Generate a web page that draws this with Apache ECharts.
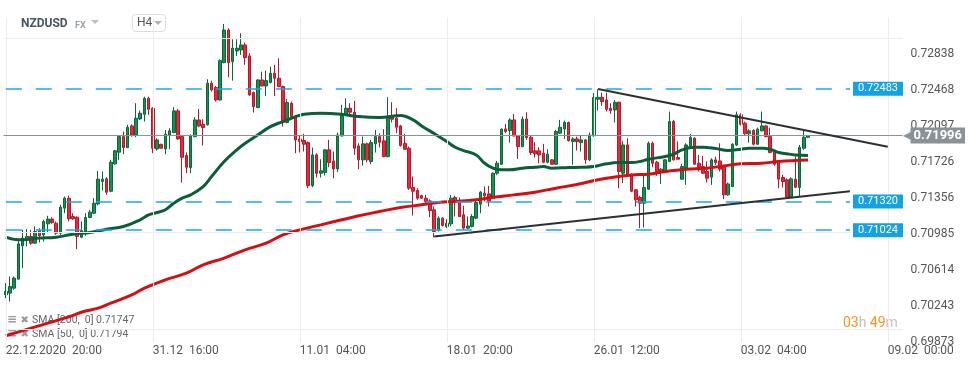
<!DOCTYPE html>
<html><head><meta charset="utf-8">
<script src="https://cdn.jsdelivr.net/npm/echarts@6/dist/echarts.min.js"></script>
<style>html,body{margin:0;padding:0;background:#fff}#c{width:970px;height:368px}</style>
</head><body><div id="c"></div>
<script>
const instrument = 'NZDUSD';
const market = 'FX';
const timeframe = 'H4';
const xTickLabels = ['22.12.2020  20:00', '31.12  16:00', '11.01  04:00', '18.01  20:00', '26.01  12:00', '03.02  04:00', '09.02  00:00'];
const xTickEvery = 35;
const slotCount = 214;
const yTicks = [0.72838, 0.72468, 0.72097, 0.71726, 0.71356, 0.70985, 0.70614, 0.70243, 0.69873];
const yMin = 0.69871, yMax = 0.73222;
// [open, close, low, high]
const candles = [
[0.70358,0.70392,0.70323,0.70478],[0.70375,0.70444,0.70289,0.70547],[0.70426,0.70530,0.70409,0.70547],[0.70519,0.70883,0.70519,0.70925],
[0.70863,0.70942,0.70632,0.71027],[0.70925,0.70959,0.70856,0.71034],[0.70959,0.70890,0.70873,0.71027],[0.70890,0.71010,0.70883,0.71062],
[0.71020,0.70966,0.70897,0.71045],[0.70976,0.71114,0.70907,0.71131],[0.71089,0.71138,0.70993,0.71172],[0.71138,0.71103,0.71089,0.71158],
[0.71096,0.70993,0.70976,0.71114],[0.70993,0.71261,0.70976,0.71285],[0.71251,0.71354,0.71199,0.71371],[0.71354,0.71141,0.71114,0.71381],
[0.71165,0.71141,0.71131,0.71199],[0.71158,0.70959,0.70828,0.71165],[0.70952,0.71020,0.70942,0.71114],[0.70993,0.71155,0.70966,0.71199],
[0.71155,0.71210,0.71148,0.71234],[0.71199,0.71302,0.71192,0.71354],[0.71295,0.71550,0.71278,0.71636],[0.71526,0.71550,0.71433,0.71629],
[0.71553,0.71416,0.71388,0.71570],[0.71426,0.71725,0.71416,0.71749],[0.71708,0.71842,0.71697,0.71852],[0.71828,0.71989,0.71749,0.71999],
[0.71989,0.71876,0.71807,0.72041],[0.71876,0.72085,0.71869,0.72110],[0.72099,0.72006,0.71989,0.72116],[0.72006,0.72178,0.71982,0.72333],
[0.72171,0.72230,0.72161,0.72257],[0.72219,0.72384,0.72144,0.72401],[0.72384,0.72271,0.72213,0.72401],[0.72281,0.71869,0.71818,0.72292],
[0.71862,0.71955,0.71845,0.71972],[0.71910,0.71869,0.71866,0.71914],[0.71862,0.72013,0.71807,0.72058],[0.72006,0.72048,0.71859,0.72075],
[0.72031,0.72254,0.72024,0.72292],[0.72254,0.71965,0.71955,0.72274],[0.71989,0.71776,0.71515,0.72006],[0.71793,0.71673,0.71611,0.71825],
[0.71670,0.71999,0.71611,0.72013],[0.71989,0.72161,0.71982,0.72189],[0.72161,0.72099,0.72085,0.72274],[0.72116,0.72082,0.71897,0.72168],
[0.72110,0.72539,0.72103,0.72580],[0.72539,0.72470,0.72453,0.72566],[0.72494,0.72367,0.72350,0.72511],[0.72367,0.72772,0.72360,0.72786],
[0.72752,0.73088,0.72745,0.73150],[0.73088,0.72752,0.72601,0.73106],[0.72762,0.72900,0.72566,0.72992],[0.72872,0.72900,0.72821,0.72992],
[0.72882,0.72934,0.72831,0.73054],[0.72934,0.72803,0.72728,0.72958],[0.72821,0.72419,0.72408,0.72848],[0.72443,0.72299,0.72237,0.72453],
[0.72288,0.72573,0.72281,0.72580],[0.72573,0.72511,0.72505,0.72659],[0.72511,0.72566,0.72408,0.72669],[0.72546,0.72642,0.72539,0.72711],
[0.72642,0.72590,0.72408,0.72728],[0.72590,0.72505,0.72498,0.72797],[0.72505,0.72144,0.72092,0.72515],[0.72134,0.72340,0.72127,0.72377],
[0.72333,0.72195,0.72178,0.72350],[0.72195,0.71955,0.71818,0.72213],[0.71965,0.71938,0.71825,0.72006],[0.71948,0.71910,0.71835,0.72017],
[0.71927,0.71484,0.71457,0.71938],[0.71484,0.71800,0.71467,0.71876],[0.71800,0.71611,0.71567,0.71818],[0.71611,0.71636,0.71567,0.71756],
[0.71619,0.71852,0.71587,0.71859],[0.71852,0.71721,0.71673,0.71955],[0.71738,0.71656,0.71560,0.71835],[0.71656,0.72006,0.71622,0.72031],
[0.71996,0.72213,0.71989,0.72316],[0.72213,0.72281,0.72206,0.72384],[0.72281,0.72240,0.72195,0.72333],[0.72240,0.71869,0.71800,0.72357],
[0.71893,0.71749,0.71653,0.71920],[0.71749,0.71914,0.71690,0.71989],[0.71914,0.71749,0.71725,0.71927],[0.71732,0.71927,0.71704,0.71955],
[0.71914,0.71989,0.71825,0.72058],[0.71989,0.71931,0.71876,0.72024],[0.71945,0.71783,0.71776,0.72065],[0.71783,0.72195,0.71776,0.72394],
[0.72195,0.72168,0.72134,0.72343],[0.72178,0.72085,0.72024,0.72281],[0.72099,0.71897,0.71886,0.72110],[0.71920,0.71859,0.71852,0.72017],
[0.71869,0.71457,0.71440,0.71886],[0.71464,0.71426,0.71175,0.71577],[0.71433,0.71354,0.71337,0.71457],[0.71381,0.71354,0.71347,0.71388],
[0.71354,0.71320,0.71292,0.71388],[0.71326,0.71227,0.71158,0.71343],[0.71234,0.71010,0.70952,0.71268],[0.71020,0.71148,0.71010,0.71165],
[0.71148,0.71072,0.71062,0.71158],[0.71062,0.71096,0.71045,0.71138],[0.71089,0.71354,0.71066,0.71388],[0.71361,0.71309,0.71165,0.71378],
[0.71320,0.71165,0.71158,0.71361],[0.71182,0.71045,0.71027,0.71275],[0.71045,0.71066,0.71034,0.71165],[0.71062,0.71165,0.71052,0.71189],
[0.71148,0.71309,0.71138,0.71337],[0.71292,0.71416,0.71199,0.71426],[0.71405,0.71378,0.71320,0.71474],[0.71398,0.71326,0.71268,0.71481],
[0.71354,0.71611,0.71344,0.71619],[0.71611,0.71714,0.71594,0.71738],[0.71704,0.72065,0.71697,0.72075],[0.72068,0.72041,0.72024,0.72120],
[0.72051,0.72161,0.71927,0.72178],[0.72161,0.71996,0.71989,0.72223],[0.71996,0.71886,0.71759,0.72006],[0.71886,0.72168,0.71879,0.72195],
[0.72171,0.71979,0.71955,0.72240],[0.71982,0.71825,0.71800,0.71996],[0.71842,0.71811,0.71773,0.71931],[0.71842,0.71800,0.71714,0.71879],
[0.71818,0.71725,0.71714,0.71914],[0.71725,0.71807,0.71714,0.71859],[0.71749,0.71704,0.71701,0.71756],[0.71704,0.72041,0.71697,0.72058],
[0.72024,0.72085,0.72017,0.72161],[0.72068,0.72134,0.71965,0.72154],[0.72134,0.71948,0.71938,0.72144],[0.71938,0.71965,0.71697,0.71982],
[0.71965,0.71938,0.71845,0.71989],[0.71927,0.71955,0.71835,0.72006],[0.71955,0.71749,0.71708,0.71965],[0.71749,0.72006,0.71738,0.72031],
[0.71996,0.72391,0.71989,0.72436],[0.72374,0.72394,0.72257,0.72477],[0.72394,0.72350,0.72306,0.72443],[0.72367,0.72271,0.72247,0.72443],
[0.72281,0.72257,0.72223,0.72333],[0.72264,0.72343,0.72134,0.72367],[0.72343,0.71629,0.71457,0.72350],[0.71611,0.71903,0.71508,0.71945],
[0.71903,0.71594,0.71577,0.71972],[0.71594,0.71426,0.71416,0.71611],[0.71440,0.71337,0.71268,0.71447],[0.71361,0.71302,0.71045,0.71378],
[0.71302,0.71464,0.71052,0.71594],[0.71447,0.71920,0.71440,0.71938],[0.71920,0.71714,0.71673,0.71938],[0.71725,0.71629,0.71584,0.71738],
[0.71629,0.71653,0.71501,0.71663],[0.71629,0.71749,0.71622,0.71756],[0.71732,0.72144,0.71725,0.72247],[0.72144,0.71749,0.71742,0.72161],
[0.71773,0.71756,0.71756,0.71938],[0.71550,0.71680,0.71543,0.71708],[0.71663,0.71903,0.71491,0.71920],[0.71886,0.71979,0.71879,0.72017],
[0.71972,0.71704,0.71697,0.71982],[0.71714,0.71663,0.71629,0.71800],[0.71680,0.71611,0.71605,0.71790],[0.71629,0.71560,0.71515,0.71732],
[0.71570,0.71749,0.71491,0.71766],[0.71749,0.71721,0.71697,0.71783],[0.71738,0.71653,0.71629,0.71920],[0.71680,0.71388,0.71344,0.71697],
[0.71388,0.71501,0.71378,0.71515],[0.71474,0.71910,0.71467,0.71920],[0.71903,0.72213,0.71893,0.72247],[0.72213,0.72116,0.72103,0.72230],
[0.72127,0.72017,0.72006,0.72144],[0.72017,0.72048,0.71927,0.72065],[0.72051,0.71910,0.71897,0.72065],[0.71910,0.72065,0.71903,0.72082],
[0.72048,0.72099,0.72041,0.72247],[0.72099,0.71989,0.71982,0.72110],[0.71989,0.71825,0.71818,0.72082],[0.71835,0.71704,0.71687,0.71845],
[0.71732,0.71550,0.71457,0.71749],[0.71567,0.71526,0.71464,0.71594],[0.71543,0.71364,0.71354,0.71560],[0.71364,0.71553,0.71357,0.71570],
[0.71550,0.71467,0.71457,0.71783],[0.71464,0.71879,0.71371,0.71903],[0.71869,0.71982,0.71852,0.72051],[0.71982,0.71996,0.71978,0.72000]
];
// [candle index, value]
const sma50 = [[0,0.70952],[3,0.70925],[8,0.70942],[12,0.70952],[16,0.70983],[20,0.71000],[24,0.71034],[28,0.71062],[32,0.71131],[34,0.71182],
[36,0.71206],[38,0.71234],[40,0.71302],[42,0.71354],[44,0.71388],[47,0.71474],[49,0.71577],[52,0.71732],[55,0.71852],[57,0.71920],
[60,0.72006],[63,0.72092],[66,0.72144],[69,0.72195],[71,0.72219],[75,0.72230],[80,0.72219],[84,0.72195],[89,0.72185],[94,0.72206],
[97,0.72161],[99,0.72099],[102,0.72020],[105,0.71938],[107,0.71879],[109,0.71845],[112,0.71800],[114,0.71714],[116,0.71663],[118,0.71646],
[120,0.71646],[123,0.71663],[126,0.71673],[128,0.71680],[130,0.71663],[134,0.71670],[137,0.71673],[140,0.71680],[143,0.71708],[146,0.71721],
[149,0.71721],[151,0.71732],[153,0.71756],[157,0.71783],[159,0.71807],[161,0.71852],[164,0.71879],[166,0.71879],[169,0.71865],[172,0.71845],
[175,0.71859],[177,0.71869],[180,0.71869],[182,0.71859],[184,0.71825],[186,0.71811],[188,0.71800],[191,0.71794]];
const sma200 = [[0,0.69935],[6,0.70014],[14,0.70117],[19,0.70190],[22,0.70220],[25,0.70272],[30,0.70357],[33,0.70426],[38,0.70512],[43,0.70581],
[47,0.70667],[52,0.70736],[57,0.70821],[62,0.70890],[66,0.70976],[70,0.71027],[75,0.71079],[80,0.71131],[84,0.71172],[89,0.71216],
[94,0.71258],[99,0.71285],[103,0.71309],[107,0.71320],[112,0.71337],[116,0.71364],[121,0.71388],[126,0.71416],[131,0.71457],[136,0.71495],
[141,0.71543],[146,0.71577],[149,0.71594],[153,0.71601],[157,0.71629],[162,0.71653],[167,0.71663],[171,0.71687],[175,0.71708],[180,0.71714],
[184,0.71732],[191,0.71747]];
const sma200Last = 0.71747, sma50Last = 0.71794;
const levels = [0.72483, 0.71320, 0.71024];
const levelEnd = 201;
const lastPrice = 0.71996;
const upperTrend = [[141, 0.72479], [210, 0.71885]];
const lowerTrend = [[102, 0.70958], [201, 0.71425]];
const countdown = ['03', '49'];

const FONT = 'Roboto';
const slots = Array.from({length: slotCount}, (_, i) => String(i));

const gridMarks = [
  ...yTicks.map(v => ({ yAxis: v, lineStyle: { color: '#ececec', width: 1, type: 'solid' }, label: { show: false } })),
  ...xTickLabels.map((_, k) => ({ xAxis: k * xTickEvery, lineStyle: { color: '#ececec', width: 1, type: 'solid' }, label: { show: false } }))
];
const levelMarks = levels.map(v => [
  { coord: [0, v], lineStyle: { color: '#1fa6e2', width: 1.5, type: [16, 14] },
    label: { show: true, position: 'end', distance: 3, formatter: v.toFixed(5), color: '#fff', backgroundColor: '#16a2e0',
             fontFamily: FONT, fontSize: 11, padding: [2, 5, 1, 5], lineHeight: 11 } },
  { coord: [levelEnd, v] }
]);
const priceMark = { yAxis: lastPrice, lineStyle: { color: '#8a9297', width: 1, type: 'solid' },
  label: { show: true, position: 'end', distance: 0, formatter: '{a|◀}{b|' + lastPrice.toFixed(5) + '}',
    rich: { a: { color: '#8a9297', fontSize: 12, padding: [0, -1, 0, 0] },
            b: { color: '#fff', backgroundColor: '#8a9297', fontFamily: FONT, fontWeight: 'bold', fontSize: 13, padding: [2, 3, 1, 3], lineHeight: 13 } } } };

const trendMarks = [upperTrend, lowerTrend].map(t => [{ coord: t[0] }, { coord: t[1] }]);

const chart = echarts.init(document.getElementById('c'), null, { renderer: 'canvas' });
chart.setOption({
  animation: false,
  backgroundColor: '#fff',
  grid: { left: 3.7, right: 67.5, top: 17, bottom: 26, containLabel: false },
  xAxis: {
    type: 'category', data: slots, boundaryGap: true,
    axisLine: { show: false }, axisTick: { show: false }, splitLine: { show: false },
    axisLabel: { interval: (i) => i % xTickEvery === 0, formatter: (v, i) => xTickLabels[i / xTickEvery] || '',
                 align: 'left', color: '#555', fontFamily: FONT, fontSize: 12, margin: 3 }
  },
  yAxis: {
    type: 'value', position: 'right', min: yMin, max: yMax, scale: true,
    splitLine: { show: false }, axisLine: { show: false }, axisTick: { show: false, customValues: yTicks },
    axisLabel: { customValues: yTicks, showMinLabel: true, showMaxLabel: true, color: '#555', fontFamily: FONT, fontSize: 12, margin: 8,
                 formatter: v => v.toFixed(5) }
  },
  series: [
    { type: 'line', z: 1, data: [], silent: true,
      markLine: { silent: true, symbol: ['none', 'none'], animation: false, data: [...gridMarks, ...levelMarks, priceMark] } },
    { type: 'candlestick', z: 2, data: candles, barWidth: 3,
      itemStyle: { color: '#1b8e52', color0: '#e62a3c', borderColor: '#0d6638', borderColor0: '#b01a2b', borderWidth: 1 } },
    { type: 'line', z: 3, data: sma200, symbol: 'none', smooth: 0.4, lineStyle: { color: '#d40f14', width: 3 } },
    { type: 'line', z: 4, data: sma50, symbol: 'none', smooth: 0.4, lineStyle: { color: '#0b5e38', width: 3 } },
    { type: 'line', z: 5, data: [], silent: true,
      markLine: { silent: true, symbol: ['none', 'none'], animation: false, label: { show: false },
                  lineStyle: { color: '#2b3035', width: 2, type: 'solid' }, data: trendMarks } }
  ],
  graphic: [
    { type: 'text', left: 21, top: 18, style: { text: instrument, fill: '#4a545e', font: 'bold 12px Roboto' } },
    { type: 'text', left: 75, top: 21, style: { text: market, fill: '#9aa2a9', font: 'bold 9px Roboto' } },
    { type: 'polygon', shape: { points: [[91, 20], [99, 20], [95, 24]] }, style: { fill: '#b8bec3' } },
    { type: 'rect', shape: { x: 132.5, y: 14.5, width: 33, height: 17, r: 3 }, style: { fill: '#fff', stroke: '#dcdcdc', lineWidth: 1 } },
    { type: 'text', left: 137, top: 17, style: { text: timeframe, fill: '#555', font: '12px Roboto' } },
    { type: 'polygon', shape: { points: [[154, 21], [162, 21], [158, 25]] }, style: { fill: '#b0b0b0' } },
    { type: 'text', left: 843, top: 316, style: { text: '{o|' + countdown[0] + '}{g|h} {o|' + countdown[1] + '}{g|m}',
        rich: { o: { fill: '#f7941d', font: '14px Roboto' }, g: { fill: '#c2c2c2', font: '14px Roboto' } } } },
    { type: 'text', left: 7, top: 314, style: { text: '{i|≡} {x|✖} {t|SMA [200,  0] ' + sma200Last.toFixed(5) + '}',
        rich: { i: { fill: '#9a9a9a', font: 'bold 12px DejaVu Sans' }, x: { fill: '#9a9a9a', font: 'bold 10px DejaVu Sans' }, t: { fill: '#666', font: '10.5px Roboto' } } } },
    { type: 'text', left: 7, top: 328, style: { text: '{i|≡} {x|✖} {t|SMA [50,  0] ' + sma50Last.toFixed(5) + '}',
        rich: { i: { fill: '#9a9a9a', font: 'bold 12px DejaVu Sans' }, x: { fill: '#9a9a9a', font: 'bold 10px DejaVu Sans' }, t: { fill: '#666', font: '10.5px Roboto' } } } }
  ]
});
</script>
</body></html>
